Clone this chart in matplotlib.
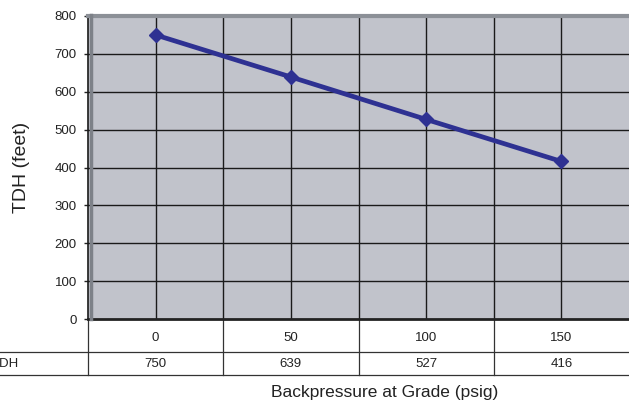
import matplotlib
matplotlib.use("Agg")
import matplotlib.pyplot as plt
from matplotlib.lines import Line2D
from matplotlib.transforms import blended_transform_factory
import numpy as np

categories = ["0", "50", "100", "150"]
tdh = [750, 639, 527, 416]
series_name = "TDH"
y_ticks = [0, 100, 200, 300, 400, 500, 600, 700, 800]

W, H = 629, 405
fig = plt.figure(figsize=(W / 100, H / 100), dpi=100)
plt.rcParams['font.family'] = ['Liberation Sans', 'DejaVu Sans']

left, right, top, bottom = 88, 629, 16, 319
ax = fig.add_axes([left / W, 1 - bottom / H, (right - left) / W, (bottom - top) / H])
ax.set_facecolor('#c1c3cb')

x = np.arange(len(categories))
ax.set_xlim(-0.5, len(categories) - 0.5)
ax.set_ylim(0, 800)

# gridlines
for v in y_ticks[1:-1]:
    ax.axhline(v, color='#1a1a1a', lw=1.0, zorder=1)
for i in range(len(categories)):
    ax.axvline(i, color='#1a1a1a', lw=1.0, zorder=1)
    if i > 0:
        ax.axvline(i - 0.5, color='#1a1a1a', lw=1.0, zorder=1)

ax.plot(x, tdh, color='#2e3192', lw=3.4, marker='D', markersize=7.5,
        markerfacecolor='#2e3192', markeredgecolor='#2e3192', zorder=3,
        solid_capstyle='round')

ax.set_yticks(y_ticks)
ax.set_yticklabels([str(v) for v in y_ticks], fontsize=9.5, color='#222222')
ax.set_xticks([])
ax.tick_params(axis='y', length=3, width=1, color='#222222', pad=5)

ax.spines['right'].set_visible(False)
ax.spines['top'].set_color('#8c9097')
ax.spines['top'].set_linewidth(3)
ax.spines['left'].set_color('#1a1a1a')
ax.spines['left'].set_linewidth(1.2)
ax.spines['bottom'].set_color('#222222')
ax.spines['bottom'].set_linewidth(2)
# 3D wall strip inside left edge
fig.add_artist(Line2D([(left + 2.5) / W] * 2, [1 - bottom / H, 1 - (top - 1) / H],
                      color='#7d8188', lw=2.5))

ax.set_ylabel("TDH (feet)", fontsize=14, color='#222222', labelpad=18)

# data table below
trans = blended_transform_factory(ax.transData, fig.transFigure)
def fy(py):
    return 1 - py / H

row1_mid, row_sep, row2_mid, row_end = 338, 352, 364, 375
for i, c in enumerate(categories):
    ax.text(i, fy(row1_mid), c, transform=trans, ha='center', va='center',
            fontsize=9.5, color='#222222', clip_on=False)
    ax.text(i, fy(row2_mid), str(tdh[i]), transform=trans, ha='center', va='center',
            fontsize=9.5, color='#222222', clip_on=False)
fig.text(-8 / W, fy(row2_mid), series_name, ha='left', va='center', fontsize=9.5,
         color='#222222')

lc = '#333333'
fig.add_artist(Line2D([0, 1], [fy(row_sep), fy(row_sep)], color=lc, lw=0.9))
fig.add_artist(Line2D([0, 1], [fy(row_end), fy(row_end)], color=lc, lw=0.9))
for i in range(len(categories)):
    xb = i - 0.5
    ax.plot([xb, xb], [fy(bottom), fy(row_end)], transform=trans, color=lc, lw=0.9,
            clip_on=False)

fig.text(385 / W, fy(392), "Backpressure at Grade (psig)", ha='center',
         va='center', fontsize=12.5, color='#222222')

fig.savefig("out.png", dpi=100)
